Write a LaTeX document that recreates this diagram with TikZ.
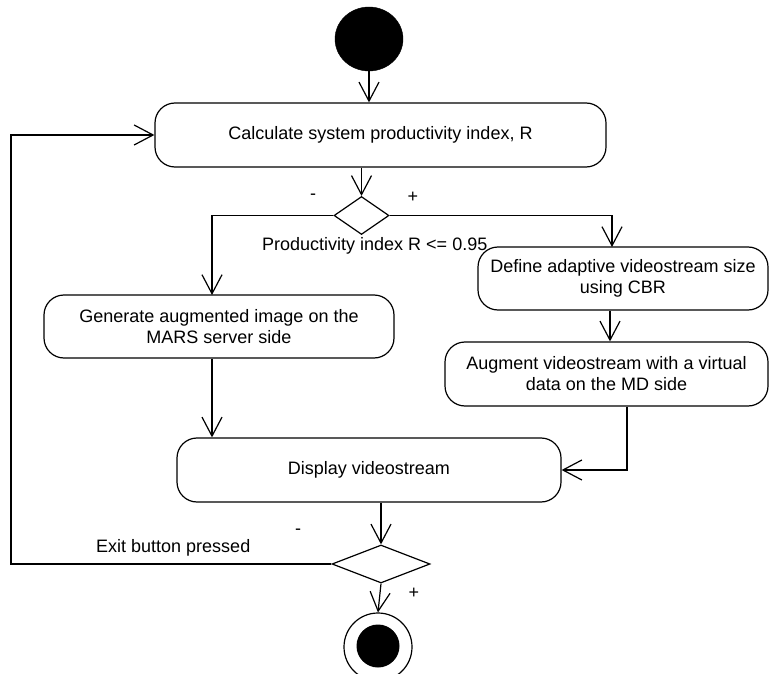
\documentclass[tikz,border=0pt]{standalone}
\usepackage{fontspec}
\setmainfont{Liberation Sans}
\usetikzlibrary{arrows.meta,shapes.geometric,calc}
\tikzset{
  act/.style={draw,rounded corners=20pt,line width=1.2pt,align=center,inner sep=0pt,font=\fontsize{18}{21}\selectfont},
  dec/.style={draw,diamond,line width=1.2pt,inner sep=0pt},
  flow/.style={line width=1.2pt,-{Straight Barb[length=19pt,width=20pt,line width=1.2pt]}},
  plain/.style={line width=1.2pt},
  lbl/.style={font=\fontsize{18}{21}\selectfont,inner sep=0pt}
}
\begin{document}
\begin{tikzpicture}[x=1pt,y=-1pt]
\useasboundingbox (0,0) rectangle (769,674);
% start
\node[draw,fill=black,ellipse,minimum width=68pt,minimum height=64pt,inner sep=0pt] (start) at (369,39) {};
% activities
\node[act,minimum width=451pt,minimum height=64pt] (calc) at (380.5,135) {Calculate system productivity index, R};
\node[act,minimum width=350pt,minimum height=63pt] (gen) at (219,326.5) {Generate augmented image on the\\MARS server side};
\node[act,minimum width=290pt,minimum height=63pt] (def) at (623,278.5) {Define adaptive videostream size\\using CBR};
\node[act,minimum width=323pt,minimum height=64pt] (aug) at (606.5,374) {Augment videostream with a virtual\\data on the MD side};
\node[act,minimum width=384pt,minimum height=64pt] (disp) at (369,470) {Display videostream};
% decisions
\node[dec,minimum width=55pt,minimum height=38pt] (d1) at (361.5,215.5) {};
\node[dec,minimum width=98pt,minimum height=38pt] (d2) at (381,564) {};
% end
\node[draw,circle,line width=1.2pt,minimum size=68pt,inner sep=0pt] (fin) at (378,647) {};
\node[fill=black,circle,minimum size=43pt,inner sep=0pt] (fininner) at (378,646) {};
% coordinates
\coordinate (genin) at (212,295);
\coordinate (defin) at (612,247);
\coordinate (loopx) at (11,564);
% connectors
\draw[flow] (start.south) -- (start.south |- calc.north);
\draw[flow] (d1.north |- calc.south) -- (d1.north);
\draw[flow] (d1.west) -| (genin);
\draw[flow] (d1.east) -| (defin);
\draw[flow] (def.south -| 610,0) -- (aug.north -| 610,0);
\draw[flow] (aug.south -| 627,0) |- (disp.east);
\draw[flow] (gen.south -| genin) -- (disp.north -| genin);
\draw[flow] (d2.north |- disp.south) -- (d2.north);
\draw[flow] (d2.west) -- (loopx) |- (calc.west);
\draw[flow] (d2.south) -- (fin.north);
% labels
\node[lbl] (m1) at (313,197) {-};
\node[lbl] (p1) at (413,197) {+};
\node[lbl,anchor=base west] (cond1) at (262,251) {Productivity index R <= 0.95};
\node[lbl] (m2) at (298,532) {-};
\node[lbl,anchor=base west] (cond2) at (96,552) {Exit button pressed};
\node[lbl] (p2) at (414,593) {+};
\end{tikzpicture}
\end{document}
